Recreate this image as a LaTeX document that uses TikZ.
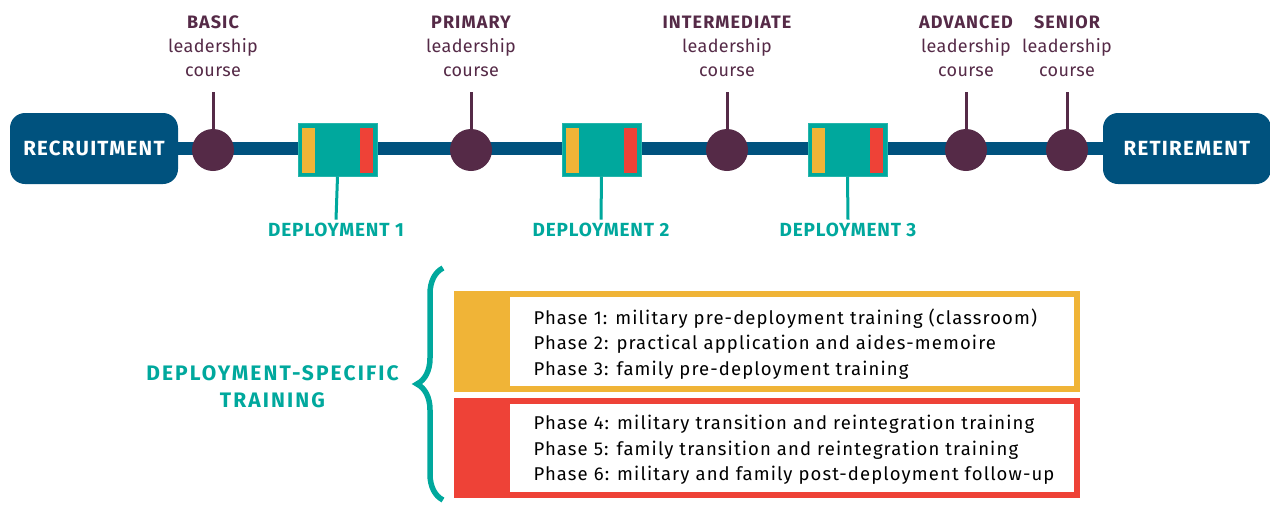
\documentclass[tikz,border=0pt]{standalone}
\usepackage{fontspec}
\setmainfont{Fira Sans}
\usetikzlibrary{decorations.pathreplacing}

\definecolor{navy}{HTML}{00527E}
\definecolor{plum}{HTML}{552A47}
\definecolor{teal}{HTML}{00A89D}
\definecolor{gold}{HTML}{F0B437}
\definecolor{alarm}{HTML}{EE4237}

% tracked type, a bit looser than the default spacing
\newcommand{\tracked}[1]{\addfontfeatures{LetterSpace=#1}}

\tikzset{
  endbox/.style={rectangle, rounded corners=15pt, fill=navy, text=white,
    minimum width=168pt, minimum height=71pt,
    font=\fontsize{20.5}{24}\selectfont\bfseries\tracked{6}},
  course/.style={circle, fill=plum, minimum size=42pt, inner sep=0pt},
  coursetext/.style={align=center, text=plum,
    font=\fontsize{18}{24}\selectfont\tracked{2}},
  deploy/.style={rectangle, fill=teal, draw=teal!85!white, line width=1pt,
    minimum width=79pt, minimum height=53pt, inner sep=0pt},
  deploytext/.style={text=teal, font=\fontsize{19}{22}\selectfont\bfseries\tracked{4.5}},
  stem/.style={line width=3pt},
  phaseframe/.style={rectangle, inner sep=0pt},
  phasetext/.style={align=left, anchor=west,
    font=\fontsize{18.5}{25.5}\selectfont\tracked{6}}
}

\begin{document}
\begin{tikzpicture}[x=1pt,y=-1pt]
  \useasboundingbox (0,0) rectangle (1270,504);

  % End points of the career line
  \node [endbox, text depth=0pt] (recruit) at (94,148.5) {RECRUITMENT};
  \node [endbox, text depth=0pt] (retire) at (1187,148.5) {RETIREMENT};

  % Career line
  \draw [navy, line width=13pt] (recruit.east) -- (retire.west);

  % Leadership courses
  \node [course] (c1) at (213,150) {};
  \node [course] (c2) at (471,150) {};
  \node [course] (c3) at (727,150) {};
  \node [course] (c4) at (966,150) {};
  \node [course] (c5) at (1067,150) {};

  \node [coursetext] (l1) at (213,46) {{\bfseries\tracked{6}BASIC}\\leadership\\course};
  \node [coursetext] (l2) at (471,46) {{\bfseries\tracked{6}PRIMARY}\\leadership\\course};
  \node [coursetext] (l3) at (727,46) {{\bfseries\tracked{6}INTERMEDIATE}\\leadership\\course};
  \node [coursetext] (l4) at (966,46) {{\bfseries\tracked{6}ADVANCED}\\leadership\\course};
  \node [coursetext] (l5) at (1067,46) {{\bfseries\tracked{6}SENIOR}\\leadership\\course};

  \draw [stem, plum] (c1.center) -- ++(0,-58);
  \draw [stem, plum] (c2.center) -- ++(0,-58);
  \draw [stem, plum] (c3.center) -- ++(0,-58);
  \draw [stem, plum] (c4.center) -- ++(0,-58);
  \draw [stem, plum] (c5.center) -- ++(0,-58);

  % Deployments, with pre- and post-deployment bars
  \node [deploy] (d1) at (337.5,149.5) {};
  \node [deploy] (d2) at (601.5,149.5) {};
  \node [deploy] (d3) at (847.5,149.5) {};

  \fill [gold] ([shift={(4,5)}]d1.north west) rectangle ([shift={(17,-4)}]d1.south west);
  \fill [alarm] ([shift={(-18,5)}]d1.north east) rectangle ([shift={(-5,-4)}]d1.south east);
  \fill [gold] ([shift={(4,5)}]d2.north west) rectangle ([shift={(17,-4)}]d2.south west);
  \fill [alarm] ([shift={(-18,5)}]d2.north east) rectangle ([shift={(-5,-4)}]d2.south east);
  \fill [gold] ([shift={(4,5)}]d3.north west) rectangle ([shift={(17,-4)}]d3.south west);
  \fill [alarm] ([shift={(-18,5)}]d3.north east) rectangle ([shift={(-5,-4)}]d3.south east);

  \node [deploytext] (t1) at (336,230) {DEPLOYMENT 1};
  \node [deploytext] (t2) at (601,230) {DEPLOYMENT 2};
  \node [deploytext] (t3) at (848,230) {DEPLOYMENT 3};

  \draw [stem, teal] (d1.south) -- (t1.north);
  \draw [stem, teal] (d2.south) -- (t2.north);
  \draw [stem, teal] (d3.south) -- (t3.north);

  % Deployment-specific training
  \node [text=teal, align=center,
    font=\fontsize{21}{27}\selectfont\bfseries\tracked{10}]
    (dst) at (272.5,386.5) {DEPLOYMENT-SPECIFIC\\TRAINING};
  \draw [teal, line width=5.5pt, decorate,
    decoration={brace, amplitude=26pt}] (443,500) -- (443,268);

  % Phases before deployment
  \node [phaseframe, fill=gold, minimum width=626pt, minimum height=101pt]
    (pre) at (767,341.5) {};
  \node [phaseframe, fill=white, minimum width=564pt, minimum height=89pt]
    (prein) at (792,341.5) {};
  \node [phasetext] (pretext) at (530,344)
    {Phase 1: military pre-deployment training (classroom)\\
     Phase 2: practical application and aides-memoire\\
     Phase 3: family pre-deployment training};

  % Phases after deployment
  \node [phaseframe, fill=alarm, minimum width=626pt, minimum height=100pt]
    (post) at (767,448) {};
  \node [phaseframe, fill=white, minimum width=564pt, minimum height=88pt]
    (postin) at (792,448) {};
  \node [phasetext] (posttext) at (530,450)
    {Phase 4: military transition and reintegration training\\
     Phase 5: family transition and reintegration training\\
     Phase 6: military and family post-deployment follow-up};
\end{tikzpicture}
\end{document}
